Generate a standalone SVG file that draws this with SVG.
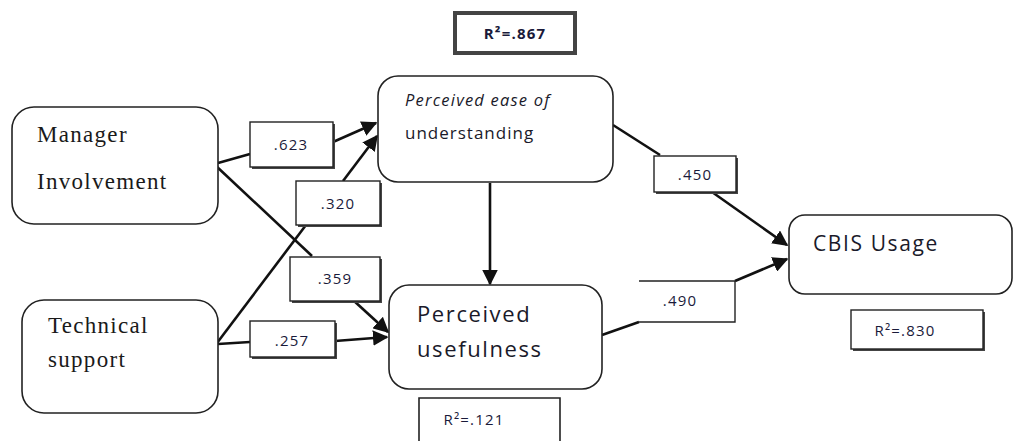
<svg xmlns="http://www.w3.org/2000/svg" width="1019" height="441" viewBox="0 0 1019 441">
<defs>
<style>
.node{fill:#fff;stroke:#222;stroke-width:1.6}
.shadow{fill:#444}
.lbl{fill:#fff;stroke:#222;stroke-width:1.4}
.conn{fill:none;stroke:#111;stroke-width:2.6}
.serif{font-family:"Liberation Serif",serif;font-size:23px;fill:#1a1a1a;letter-spacing:1.3px}
.sans{font-family:"Open Sans","Noto Sans",sans-serif;fill:#1a1a2a}
.num{font-family:"Open Sans","Noto Sans",sans-serif;font-size:15px;fill:#1a1a3a;text-anchor:middle;letter-spacing:1.2px}
</style>
<marker id="arr" viewBox="0 0 10 10" refX="9" refY="5" markerWidth="6" markerHeight="6" orient="auto" markerUnits="strokeWidth">
<path d="M0,0 L10,5 L0,10 z" fill="#111"/>
</marker>
</defs>
<g id="connectors">
<polyline class="conn" points="218,163 250,154"/>
<polyline class="conn" points="333,142 376,123" marker-end="url(#arr)"/>
<polyline class="conn" points="215,165 312,256"/>
<polyline class="conn" points="353,300 388,332" marker-end="url(#arr)"/>
<polyline class="conn" points="217,343 306,225"/>
<polyline class="conn" points="343,181 377,136" marker-end="url(#arr)"/>
<polyline class="conn" points="218,344 250,342"/>
<polyline class="conn" points="335,341 387,337" marker-end="url(#arr)"/>
<polyline class="conn" points="490,183 490,284" marker-end="url(#arr)"/>
<polyline class="conn" points="613,125 660,155"/>
<polyline class="conn" points="712,192 787,245" marker-end="url(#arr)"/>
<polyline class="conn" points="602,335 639,322"/>
<polyline class="conn" points="735,281 787,259" marker-end="url(#arr)"/>
</g>
<g id="manager">
<rect class="node" x="12" y="107" width="206" height="117" rx="22"/>
<text class="serif" x="37" y="142">Manager</text>
<text class="serif" x="37" y="189">Involvement</text>
</g>
<g id="technical">
<rect class="node" x="22" y="300" width="196" height="113" rx="22"/>
<text class="serif" x="48" y="333" letter-spacing="2">Technical</text>
<text class="serif" x="48" y="367" letter-spacing="2">support</text>
</g>
<g id="ease">
<rect class="node" x="378" y="76" width="235" height="106" rx="20"/>
<text class="sans" x="405" y="106" font-size="16.5" font-style="italic" letter-spacing="1.2">Perceived ease of</text>
<text class="sans" x="405" y="139" font-size="17" letter-spacing="1">understanding</text>
</g>
<g id="usefulness">
<rect class="node" x="389" y="285" width="213" height="104" rx="20"/>
<text class="sans" x="417" y="322" font-size="22" letter-spacing="1.6">Perceived</text>
<text class="sans" x="417" y="357" font-size="22" letter-spacing="1.6">usefulness</text>
</g>
<g id="cbis">
<rect class="node" x="789" y="215" width="223" height="79" rx="16"/>
<text class="sans" x="813" y="251" font-size="21" letter-spacing="1.6">CBIS Usage</text>
</g>
<g id="lbl623">
<rect class="shadow" x="252" y="124" width="83" height="45"/>
<rect class="lbl" x="250" y="122" width="83" height="45"/>
<text class="num" x="291" y="150">.623</text>
</g>
<g id="lbl320">
<rect class="shadow" x="298" y="183" width="84" height="44"/>
<rect class="lbl" x="296" y="181" width="84" height="44"/>
<text class="num" x="338" y="209">.320</text>
</g>
<g id="lbl359">
<rect class="shadow" x="292" y="259" width="90" height="44"/>
<rect class="lbl" x="290" y="257" width="90" height="44"/>
<text class="num" x="335" y="284">.359</text>
</g>
<g id="lbl257">
<rect class="shadow" x="252" y="323" width="85" height="36"/>
<rect class="lbl" x="250" y="321" width="85" height="36"/>
<text class="num" x="292" y="346">.257</text>
</g>
<g id="lbl450">
<rect class="shadow" x="656" y="158" width="82" height="36"/>
<rect class="lbl" x="654" y="156" width="82" height="36"/>
<text class="num" x="695" y="180">.450</text>
</g>
<g id="lbl490">
<polyline fill="none" stroke="#222" stroke-width="1.4" points="639,281 735,281 735,322 639,322"/>
<text class="num" x="680" y="306">.490</text>
</g>
<g id="r2ease">
<rect x="455" y="13" width="120" height="40" fill="#fff" stroke="#444" stroke-width="4"/>
<text class="num" x="515" y="39" font-size="13" font-weight="bold">R²=.867</text>
</g>
<g id="r2useful">
<polyline fill="none" stroke="#222" stroke-width="1.6" points="419,441 419,398 560,398 560,441"/>
<text class="num" x="474" y="425" font-size="15.5">R²=.121</text>
</g>
<g id="r2cbis">
<rect class="shadow" x="853" y="312" width="132" height="39"/>
<rect class="lbl" x="851" y="310" width="132" height="39"/>
<text class="num" x="905" y="336">R²=.830</text>
</g>
</svg>
